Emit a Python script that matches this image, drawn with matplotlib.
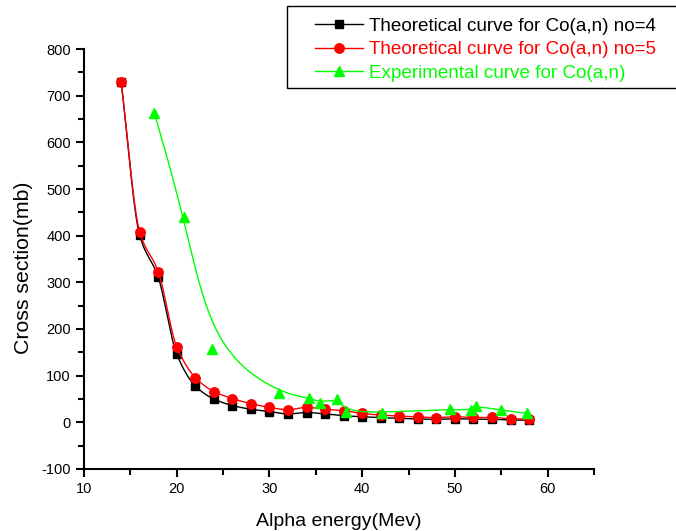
import numpy as np
from matplotlib import pyplot as plt, patches
from matplotlib.ticker import MultipleLocator

plt.rcParams['font.family'] = ['Liberation Sans', 'DejaVu Sans']
plt.rcParams['axes.unicode_minus'] = False

# data
energy = [14, 16, 18, 20, 22, 24, 26, 28, 30, 32, 34, 36, 38, 40,
          42, 44, 46, 48, 50, 52, 54, 56, 58]
theory_no4 = [730, 401, 311, 146, 78, 50, 36, 28, 23, 18, 21, 18, 14, 12,
              10, 8.5, 7, 6.5, 7.5, 7, 6.5, 5, 4.5]
theory_no5 = [730, 408, 323, 162, 96, 66, 51, 40, 32, 27, 32, 28, 25, 19,
              15.5, 13.5, 11.5, 10, 12, 10.5, 10.5, 7.5, 7]
exp_energy = [17.6, 20.8, 23.8, 31.0, 34.3, 35.4, 37.3, 38.3, 42.1,
              49.5, 51.7, 52.3, 55.0, 57.8]
exp_cs = [662, 441, 158, 62, 53, 42, 51, 23, 21, 28, 26, 35, 26, 19]

labels = ['Theoretical curve for Co(a,n) no=4',
          'Theoretical curve for Co(a,n) no=5',
          'Experimental curve for Co(a,n)']


def pchip(x, y, n=30):
    # monotone cubic curve through the points (no overshoot)
    x = np.asarray(x, float)
    y = np.asarray(y, float)
    h = np.diff(x)
    d = np.diff(y) / h
    m = np.zeros_like(y)
    for i in range(1, len(x) - 1):
        if d[i - 1] * d[i] > 0:
            w1 = 2 * h[i] + h[i - 1]
            w2 = h[i] + 2 * h[i - 1]
            m[i] = (w1 + w2) / (w1 / d[i - 1] + w2 / d[i])
    m[0] = d[0]
    m[-1] = d[-1]
    xs, ys = [], []
    for i in range(len(x) - 1):
        t = np.linspace(0, 1, n, endpoint=False)
        h00 = 2 * t**3 - 3 * t**2 + 1
        h10 = t**3 - 2 * t**2 + t
        h01 = -2 * t**3 + 3 * t**2
        h11 = t**3 - t**2
        xs.extend(x[i] + t * h[i])
        ys.extend(h00 * y[i] + h10 * h[i] * m[i] + h01 * y[i + 1] + h11 * h[i] * m[i + 1])
    xs.append(x[-1])
    ys.append(y[-1])
    return np.array(xs), np.array(ys)


def bspline(x, y, n=30):
    # clamped uniform cubic B-spline, points used as control points
    P = np.column_stack([x, y]).astype(float)
    P = np.vstack([P[0], P[0], P, P[-1], P[-1]])
    t = np.linspace(0, 1, n, endpoint=False)[:, None]
    b0 = (1 - t)**3 / 6
    b1 = (3 * t**3 - 6 * t**2 + 4) / 6
    b2 = (-3 * t**3 + 3 * t**2 + 3 * t + 1) / 6
    b3 = t**3 / 6
    segs = []
    for i in range(len(P) - 3):
        segs.append(b0 * P[i] + b1 * P[i + 1] + b2 * P[i + 2] + b3 * P[i + 3])
    segs.append(P[-1][None, :])
    C = np.vstack(segs)
    return C[:, 0], C[:, 1]


fig = plt.figure(figsize=(6.76, 5.31), dpi=100)
ax = fig.add_axes([0.1243, 0.1168, 0.7544, 0.7909])

sx, sy = pchip(energy, theory_no4)
ax.plot(sx, sy, color='black', lw=1)
ax.plot(energy, theory_no4, 's', color='black', ms=5.8)
sx, sy = pchip(energy, theory_no5)
ax.plot(sx, sy, color='red', lw=1)
ax.plot(energy, theory_no5, 'o', color='red', ms=6.8)
sx, sy = bspline(exp_energy, exp_cs)
ax.plot(sx, sy, color='#00ff00', lw=1)
ax.plot(exp_energy, exp_cs, '^', color='#00ff00', ms=7.5)

# legend box runs off the right edge of the figure
box = patches.Rectangle((287 / 676, 1 - 88 / 531), 0.7, 82 / 531,
                        transform=fig.transFigure, facecolor='white',
                        edgecolor='black', lw=1, zorder=5)
fig.patches.append(box)

h1, = ax.plot([], [], '-s', color='black', lw=1, ms=5.8)
h2, = ax.plot([], [], '-o', color='red', lw=1, ms=6.8)
h3, = ax.plot([], [], '-^', color='#00ff00', lw=1, ms=7.5)
leg = fig.legend([h1, h2, h3], labels, loc='upper left',
                 bbox_to_anchor=(315 / 676, 1 - 17.5 / 531), fontsize=13.6,
                 labelcolor='linecolor', frameon=False,
                 handlelength=2.56, handletextpad=0.32,
                 borderpad=0, labelspacing=0.34, borderaxespad=0)
leg.set_zorder(6)

ax.set_xlim(10, 65)
ax.set_ylim(-100, 800)
ax.xaxis.set_major_locator(MultipleLocator(10))
ax.xaxis.set_minor_locator(MultipleLocator(5))
ax.yaxis.set_major_locator(MultipleLocator(100))
ax.yaxis.set_minor_locator(MultipleLocator(50))
ax.spines['right'].set_visible(False)
ax.spines['top'].set_visible(False)
ax.spines['left'].set_linewidth(1.5)
ax.spines['bottom'].set_linewidth(1.5)
ax.tick_params(which='major', length=6, width=1.5, labelsize=10.5)
ax.tick_params(which='minor', length=4, width=1.5)
ax.set_xlabel('Alpha energy(Mev)', fontsize=14, labelpad=12)
ax.set_ylabel('Cross section(mb)', fontsize=15.3)
ax.yaxis.set_label_coords(-0.1, 0.479)

fig.savefig('out.png', dpi=100)
